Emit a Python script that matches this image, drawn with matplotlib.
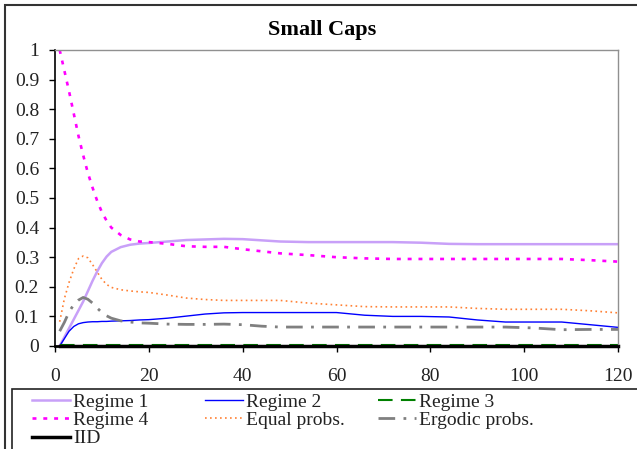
import matplotlib
matplotlib.use("Agg")
import matplotlib.pyplot as plt
from matplotlib.patches import Rectangle

plt.rcParams['font.family'] = ['Liberation Serif', 'DejaVu Serif']

# horizon (months)
horizon = [1, 2, 3, 4, 5, 6, 7, 8, 9, 10, 11, 12, 14, 16, 18, 20, 24, 28, 32, 36, 40,
           44, 48, 54, 60, 66, 72, 78, 84, 90, 96, 102, 108, 114, 120]

regime1 = [0.0, 0.03, 0.06, 0.09, 0.12, 0.15, 0.185, 0.22, 0.252, 0.28, 0.302, 0.318,
           0.334, 0.342, 0.346, 0.348, 0.353, 0.358, 0.36, 0.362, 0.361, 0.357, 0.353,
           0.351, 0.351, 0.351, 0.351, 0.349, 0.345, 0.344, 0.344, 0.344, 0.344, 0.344,
           0.344]
regime2 = [0.0, 0.025, 0.05, 0.066, 0.075, 0.079, 0.081, 0.082, 0.082, 0.083, 0.083,
           0.084, 0.085, 0.086, 0.088, 0.089, 0.094, 0.101, 0.108, 0.112, 0.113, 0.113,
           0.113, 0.113, 0.113, 0.104, 0.1, 0.1, 0.098, 0.088, 0.081, 0.081, 0.081, 0.072,
           0.063]
regime3 = [0.004] * len(horizon)
regime4 = [1.0, 0.93, 0.86, 0.785, 0.71, 0.645, 0.585, 0.535, 0.49, 0.452, 0.423, 0.40,
           0.375, 0.36, 0.353, 0.351, 0.345, 0.337, 0.335, 0.335, 0.327, 0.32, 0.313,
           0.307, 0.30, 0.296, 0.294, 0.294, 0.294, 0.294, 0.294, 0.294, 0.294, 0.29,
           0.285]
equal_probs = [0.082, 0.16, 0.215, 0.26, 0.295, 0.304, 0.298, 0.275, 0.25, 0.225, 0.208,
               0.198, 0.19, 0.186, 0.183, 0.181, 0.172, 0.162, 0.157, 0.154, 0.154, 0.154,
               0.154, 0.145, 0.139, 0.133, 0.132, 0.132, 0.132, 0.127, 0.124, 0.124,
               0.124, 0.119, 0.112]
ergodic_probs = [0.05, 0.08, 0.115, 0.14, 0.155, 0.164, 0.158, 0.145, 0.128, 0.113, 0.102,
                 0.094, 0.085, 0.081, 0.078, 0.077, 0.074, 0.073, 0.073, 0.074, 0.072,
                 0.067, 0.064, 0.064, 0.064, 0.064, 0.064, 0.064, 0.064, 0.064, 0.064,
                 0.061, 0.055, 0.056, 0.056]
iid = [0.0] * len(horizon)

fig = plt.figure(figsize=(6.37, 4.49), dpi=100)
ax = fig.add_axes([55 / 637, 1 - 346 / 449, 563 / 637, 296 / 449])

h_r1, = ax.plot(horizon, regime1, color='#C8A0F8', lw=1.8, label='Regime 1')
h_r2, = ax.plot(horizon, regime2, color='#0000FF', lw=1.0, label='Regime 2')
h_r3, = ax.plot(horizon, regime3, color='#008000', lw=1.5, dashes=(7, 4),
                label='Regime 3')
h_r4, = ax.plot(horizon, regime4, color='#FF00FF', lw=1.9, dashes=(1.5, 2.6),
                label='Regime 4')
h_eq, = ax.plot(horizon, equal_probs, color='#FF8033', lw=1.2, dashes=(1, 2),
                label='Equal probs.')
h_erg, = ax.plot(horizon, ergodic_probs, color='#808080', lw=2.0,
                 dashes=(6, 3, 1, 3), label='Ergodic probs.')
h_iid, = ax.plot(horizon, iid, color='black', lw=2.5, label='IID', clip_on=False)

ax.set_xlim(0, 120)
ax.set_ylim(0, 1)
ax.set_xticks(range(0, 121, 20))
ax.set_yticks([i / 10 for i in range(11)])
ax.set_yticklabels(['0', '0.1', '0.2', '0.3', '0.4', '0.5', '0.6', '0.7', '0.8',
                    '0.9', '1'])
ax.tick_params(axis='both', direction='out', length=4, width=1, labelsize=14,
               colors='black')
ax.tick_params(axis='x', pad=12)
ax.tick_params(axis='y', pad=7.5)
for lbl in ax.get_xticklabels() + ax.get_yticklabels():
    lbl.set_color('#222222')

for side in ('top', 'right'):
    ax.spines[side].set_color('#909090')
    ax.spines[side].set_linewidth(1)
ax.spines['left'].set_color('black')
ax.spines['left'].set_linewidth(1.2)
ax.spines['bottom'].set_color('black')
ax.spines['bottom'].set_linewidth(2)

fig.text(322 / 637, 1 - 30 / 449, 'Small Caps', ha='center', va='center',
         fontsize=16, fontweight='bold')

# chart frame and legend box
fig.add_artist(Rectangle((5 / 637, -0.2), 1.2, 1.2 + (449 - 5) / 449 - 1.0,
                         transform=fig.transFigure, fill=False, ec='#333333',
                         lw=1.5))
fig.add_artist(Rectangle((12 / 637, -0.2), 1.2, 0.2 + (449 - 389) / 449,
                         transform=fig.transFigure, fill=False, ec='#222222',
                         lw=1.2))

groups = [([h_r1, h_r4, h_iid], 32), ([h_r2, h_eq], 205), ([h_r3, h_erg], 378)]
for handles, x0 in groups:
    leg = fig.legend(handles=handles, loc='upper left',
                     bbox_to_anchor=(x0 / 637, 1 - 393 / 449), frameon=False,
                     fontsize=14, handlelength=1.95, handletextpad=0.15,
                     labelspacing=0.04, borderpad=0, borderaxespad=0)
    for t in leg.get_texts():
        t.set_color('#222222')

fig.savefig('out.png', dpi=100)
